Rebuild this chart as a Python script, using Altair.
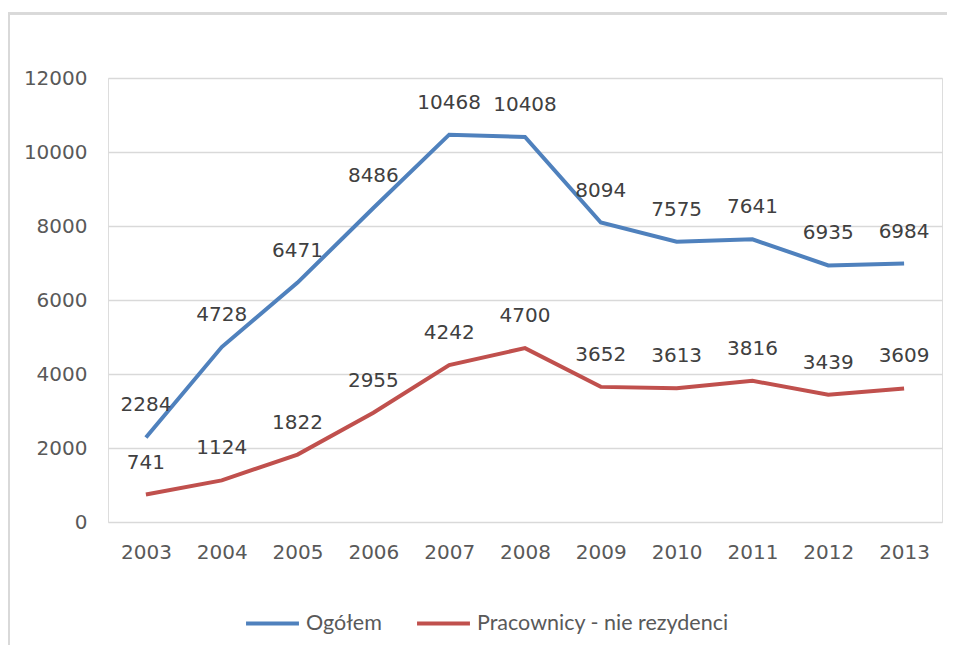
import altair as alt
import pandas as pd

years = [2003, 2004, 2005, 2006, 2007, 2008, 2009, 2010, 2011, 2012, 2013]
ogolem = [2284, 4728, 6471, 8486, 10468, 10408, 8094, 7575, 7641, 6935, 6984]
pracownicy = [741, 1124, 1822, 2955, 4242, 4700, 3652, 3613, 3816, 3439, 3609]
series_names = ["Ogółem", "Pracownicy - nie rezydenci"]
series_colors = ["#4F81BD", "#C0504D"]

rows = []
for y, v in zip(years, ogolem):
    rows.append({"rok": y, "wartosc": v, "seria": series_names[0]})
for y, v in zip(years, pracownicy):
    rows.append({"rok": y, "wartosc": v, "seria": series_names[1]})
df = pd.DataFrame(rows)

NUMFONT = "DejaVu Sans"
LEGFONT = "Lato"

x = alt.X("rok:Q",
          scale=alt.Scale(domain=[2002.5, 2013.5], nice=False, zero=False),
          axis=alt.Axis(values=years, format="d", title=None, grid=False,
                        domain=False, ticks=False, labelPadding=20,
                        labelFontSize=20, labelColor="#595959", labelFont=NUMFONT))
y = alt.Y("wartosc:Q",
          scale=alt.Scale(domain=[0, 12000], nice=False),
          axis=alt.Axis(values=[0, 2000, 4000, 6000, 8000, 10000, 12000],
                        format="d", title=None, domain=False, ticks=False,
                        labelPadding=21, labelFontSize=20, labelColor="#595959",
                        labelFont=NUMFONT, gridColor="#D9D9D9", gridWidth=1.5))
color = alt.Color("seria:N",
                  scale=alt.Scale(domain=series_names, range=series_colors),
                  legend=alt.Legend(title=None, orient="none", legendX=136,
                                    legendY=517, direction="horizontal",
                                    symbolType="stroke", symbolSize=2800,
                                    symbolStrokeWidth=4, labelFontSize=21.5,
                                    labelFont=LEGFONT, labelColor="#595959",
                                    labelOffset=5, columnPadding=27,
                                    labelLimit=400))

base = alt.Chart(df)
lines = base.mark_line(strokeWidth=4).encode(x=x, y=y, color=color)
labels = base.mark_text(dy=-32, baseline="middle", align="center", fontSize=20,
                        font=NUMFONT, color="#404040").encode(
    x="rok:Q", y="wartosc:Q", text=alt.Text("wartosc:Q", format="d"))

frame_top = alt.Chart(df).mark_rule(color="#D9D9D9", strokeWidth=2).encode(
    x=alt.value(-100), x2=alt.value(1000), y=alt.value(-64.5))
frame_left = alt.Chart(df).mark_rule(color="#D9D9D9", strokeWidth=2).encode(
    x=alt.value(-99), y=alt.value(-65.5), y2=alt.value(700))

chart = alt.layer(lines, labels, frame_top, frame_left).properties(
    width=834, height=444,
    autosize=alt.AutoSizeParams(type="none"),
    padding={"left": 100, "top": 70, "right": 5, "bottom": 123},
).configure_view(stroke=None).configure(background="white")

chart.save("out.html", embed_options={"renderer": "svg", "actions": False})
